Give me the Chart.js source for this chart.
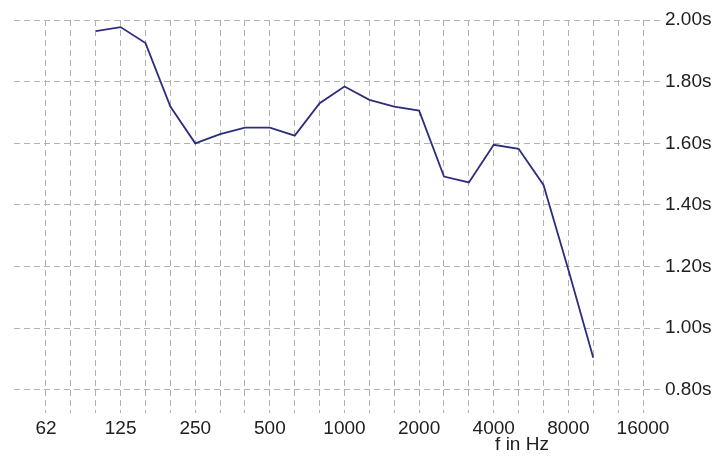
<!DOCTYPE html>
<html>
<head>
<meta charset="utf-8">
<script src="https://cdn.jsdelivr.net/npm/chart.js@4.4.1/dist/chart.umd.min.js"></script>
<style>
  html, body { margin: 0; padding: 0; background: #fff; }
  #wrap { width: 719px; height: 465px; }
</style>
</head>
<body>
<div id="wrap"><canvas id="rtChart" width="719" height="465"></canvas></div>
<script>
// third-octave bands, 62 Hz .. 16 kHz
const bandLabels = ['62', '80', '100', '125', '160', '200', '250', '315', '400', '500', '630', '800',
  '1000', '1250', '1600', '2000', '2500', '3150', '4000', '5000', '6300', '8000', '10000', '12500', '16000'];
// only octave bands get a label
const octaveLabels = ['62', '125', '250', '500', '1000', '2000', '4000', '8000', '16000'];
// reverberation time in seconds per band (null = not measured)
const rtValues = [null, null, 1.964, 1.977, 1.925, 1.719, 1.600, 1.630, 1.651, 1.651, 1.625, 1.730,
  1.784, 1.741, 1.719, 1.706, 1.492, 1.473, 1.595, 1.582, 1.465, 1.190, 0.904, null, null];
const yTicks = [0.8, 1.0, 1.2, 1.4, 1.6, 1.8, 2.0];

const FONT = "'Liberation Sans', Arial, sans-serif";
const TEXT_COLOR = '#202020';
const GRID_COLOR = '#b2b2b2';

const points = rtValues.map((v, i) => ({ x: i, y: v }));

// axis caption sits under the 4000/5000 labels in the original
const axisCaption = {
  id: 'axisCaption',
  afterDraw: (chart) => {
    const ctx = chart.ctx;
    ctx.save();
    ctx.font = `19px ${FONT}`;
    ctx.fillStyle = TEXT_COLOR;
    ctx.textAlign = 'center';
    ctx.textBaseline = 'middle';
    ctx.fillText('f in Hz', 522, 445);
    ctx.restore();
  }
};

new Chart(document.getElementById('rtChart'), {
  type: 'line',
  data: {
    datasets: [{
      label: 'T',
      data: points,
      borderColor: '#2d2d7d',
      borderWidth: 1.8,
      pointRadius: 0,
      tension: 0,
      fill: false
    }]
  },
  options: {
    responsive: false,
    animation: false,
    layout: { padding: { left: 14, top: 20, right: 0, bottom: 0 } },
    plugins: {
      legend: { display: false },
      tooltip: { enabled: false }
    },
    scales: {
      x: {
        type: 'linear',
        min: -1.286,
        max: 24.804,
        afterBuildTicks: (scale) => {
          scale.ticks = bandLabels.map((b, i) => ({ value: i }));
        },
        afterFit: (scale) => { scale.height = 52; },
        grid: { color: GRID_COLOR, lineWidth: 1, drawTicks: false },
        border: { display: false, dash: [6, 4] },
        ticks: {
          autoSkip: false,
          maxRotation: 0,
          padding: 4,
          color: TEXT_COLOR,
          font: { family: FONT, size: 19 },
          callback: (value) => {
            const lbl = bandLabels[value];
            return octaveLabels.includes(lbl) ? lbl : '';
          }
        }
      },
      y: {
        position: 'right',
        min: 0.725,
        max: 2.0,
        afterBuildTicks: (scale) => {
          scale.ticks = yTicks.map(v => ({ value: v }));
        },
        afterFit: (scale) => { scale.width = 56; },
        grid: { color: GRID_COLOR, lineWidth: 1, drawTicks: false },
        border: { display: false, dash: [6, 4] },
        ticks: {
          padding: 2,
          color: TEXT_COLOR,
          font: { family: FONT, size: 19 },
          callback: (value) => value.toFixed(2) + 's'
        }
      }
    }
  },
  plugins: [axisCaption]
});
</script>
</body>
</html>
